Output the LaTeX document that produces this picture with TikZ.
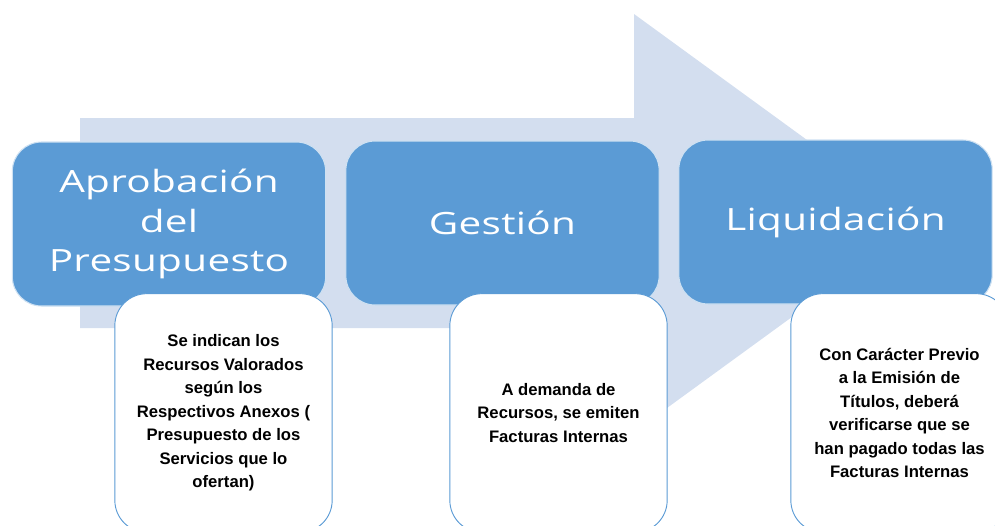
\documentclass[tikz,border=0pt]{standalone}
\usepackage{fontspec}
\setmainfont{Liberation Sans}
\newfontfamily\pasofont[FakeStretch=1.32,LetterSpace=1]{Open Sans}
\definecolor{pasoAzul}{HTML}{5B9BD5}
\definecolor{flechaFondo}{HTML}{D3DEEF}

\begin{document}
\begin{tikzpicture}[x=0.75pt, y=-0.75pt, line join=round]
  \tikzset{
    paso/.style={fill=pasoAzul, draw=white!70!pasoAzul, line width=0.8pt,
      rounded corners=22pt, minimum width=235pt, minimum height=123pt,
      text=white, align=center, font=\pasofont\fontsize{23}{29.5}\selectfont},
    nota/.style={fill=white, draw=pasoAzul, line width=0.7pt,
      rounded corners=24pt, minimum width=163pt, minimum height=179pt,
      align=center, font=\bfseries\fontsize{12.5}{17.6}\selectfont}
  }
  \useasboundingbox (0,0) rectangle (995,525);
  \clip (0,0) rectangle (995,525);
  % flecha de fondo
  \fill[flechaFondo] (80,118) -- (634,118) -- (634,14) -- (921,223)
    -- (634,432) -- (634,328) -- (80,328) -- cycle;
  % pasos
  \node[paso] (aprob) at (169,224) {Aprobación\\del\\Presupuesto};
  \node[paso] (gestion) at (502.5,223) {Gestión};
  \node[paso] (liquid) at (835.5,222) {Liquidación};
  % notas
  \node[nota] (notaAprob) at (223.5,413) {Se indican los\\Recursos Valorados\\según los\\Respectivos Anexos (\\Presupuesto de los\\Servicios que lo\\ofertan)};
  \node[nota] (notaGestion) at (558.5,413) {A demanda de\\Recursos, se emiten\\Facturas Internas};
  \node[nota] (notaLiquid) at (899.5,413) {Con Carácter Previo\\a la Emisión de\\Títulos, deberá\\verificarse que se\\han pagado todas las\\Facturas Internas};
\end{tikzpicture}
\end{document}
